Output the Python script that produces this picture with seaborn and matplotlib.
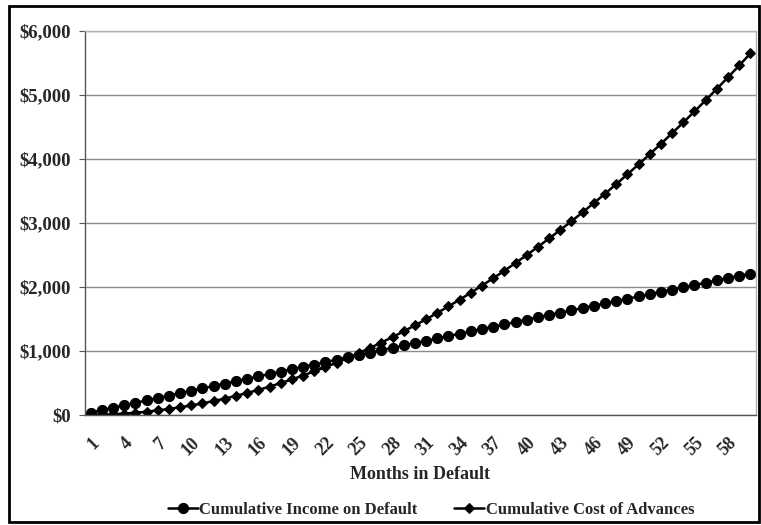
import numpy as np
import pandas as pd
import matplotlib
matplotlib.use("Agg")
import matplotlib.pyplot as plt
from matplotlib.patches import Rectangle
import seaborn as sns

# values
months = list(range(1, 61))
income = [38, 76, 114, 152, 190, 227, 265, 303, 340, 378,
          416, 453, 491, 528, 566, 603, 640, 678, 715, 752,
          789, 827, 864, 901, 938, 975, 1012, 1049, 1086, 1123,
          1159, 1196, 1233, 1270, 1306, 1343, 1379, 1416, 1452, 1489,
          1525, 1562, 1598, 1634, 1671, 1707, 1743, 1779, 1815, 1852,
          1888, 1924, 1960, 1995, 2031, 2067, 2103, 2139, 2174, 2210]
cost = [1, 5, 12, 22, 35, 52, 72, 95, 121, 150,
        182, 218, 257, 299, 344, 392, 443, 498, 556, 617,
        681, 748, 818, 892, 969, 1049, 1132, 1218, 1307, 1400,
        1496, 1594, 1697, 1802, 1910, 2022, 2137, 2254, 2375, 2500,
        2627, 2758, 2891, 3028, 3168, 3311, 3458, 3607, 3760, 3916,
        4075, 4237, 4403, 4571, 4743, 4918, 5096, 5277, 5461, 5649]
y_ticks = [0, 1000, 2000, 3000, 4000, 5000, 6000]
y_labels = ["$0", "$1,000", "$2,000", "$3,000", "$4,000", "$5,000", "$6,000"]

df = pd.DataFrame({"pos": np.arange(len(months)), "income": income, "cost": cost})

sns.set_style("white")
plt.rcParams['font.family'] = ['Liberation Serif', 'DejaVu Serif']
plt.rcParams['font.weight'] = 'bold'

fig = plt.figure(figsize=(7.61, 5.25), dpi=100)
ax = fig.add_axes([85 / 761, 1 - 415 / 525, 671 / 761, 384 / 525])

sns.lineplot(data=df, x="pos", y="income", ax=ax, color="black", lw=1.8,
             marker="o", markersize=7.3, markeredgecolor="black",
             label="Cumulative Income on Default")
sns.lineplot(data=df, x="pos", y="cost", ax=ax, color="black", lw=1.8,
             marker="D", markersize=5, markeredgecolor="black",
             label="Cumulative Cost of Advances")

ax.set_xlim(-0.5, len(months) - 0.5)
ax.set_ylim(0, 6000)
ax.set_yticks(y_ticks)
ax.set_yticklabels(y_labels, fontsize=13.5, fontweight="bold")
ax.yaxis.grid(True, color="#8c8c8c", lw=1)
ax.set_axisbelow(True)

lab_pos = list(range(0, len(months), 3))
ax.set_xticks(lab_pos)
ax.set_xticklabels([str(months[i]) for i in lab_pos], rotation=45, ha="right",
                   rotation_mode="anchor", fontsize=13, fontweight="bold")
ax.set_xticks(np.arange(-0.5, len(months), 1), minor=True)
ax.tick_params(axis="x", which="major", length=0, pad=14)
ax.tick_params(axis="x", which="minor", length=4, color="#555555", direction="out")
ax.tick_params(axis="y", length=4, color="#555555", direction="out", pad=6, left=True)

ax.set_xlabel("Months in Default", fontsize=13, fontweight="bold", labelpad=5)
ax.set_ylabel("")

for side in ["top", "right"]:
    ax.spines[side].set_color("#b0b0b0")
for side in ["left", "bottom"]:
    ax.spines[side].set_color("#555555")
for s in ax.spines.values():
    s.set_linewidth(1)

ax.get_legend().remove()
h, l = ax.get_legend_handles_labels()
fig.legend(h, l, loc="center", bbox_to_anchor=(431 / 761, 1 - 510 / 525), ncol=2,
           frameon=False, handlelength=1.8, handletextpad=0.1,
           columnspacing=2.2, prop={"weight": "bold", "size": 12})

fig.patches.append(Rectangle((9 / 761, 3 / 525), 750 / 761, 516 / 525,
                             transform=fig.transFigure, fill=False,
                             edgecolor="black", lw=2))

fig.savefig("out.png", dpi=100)
